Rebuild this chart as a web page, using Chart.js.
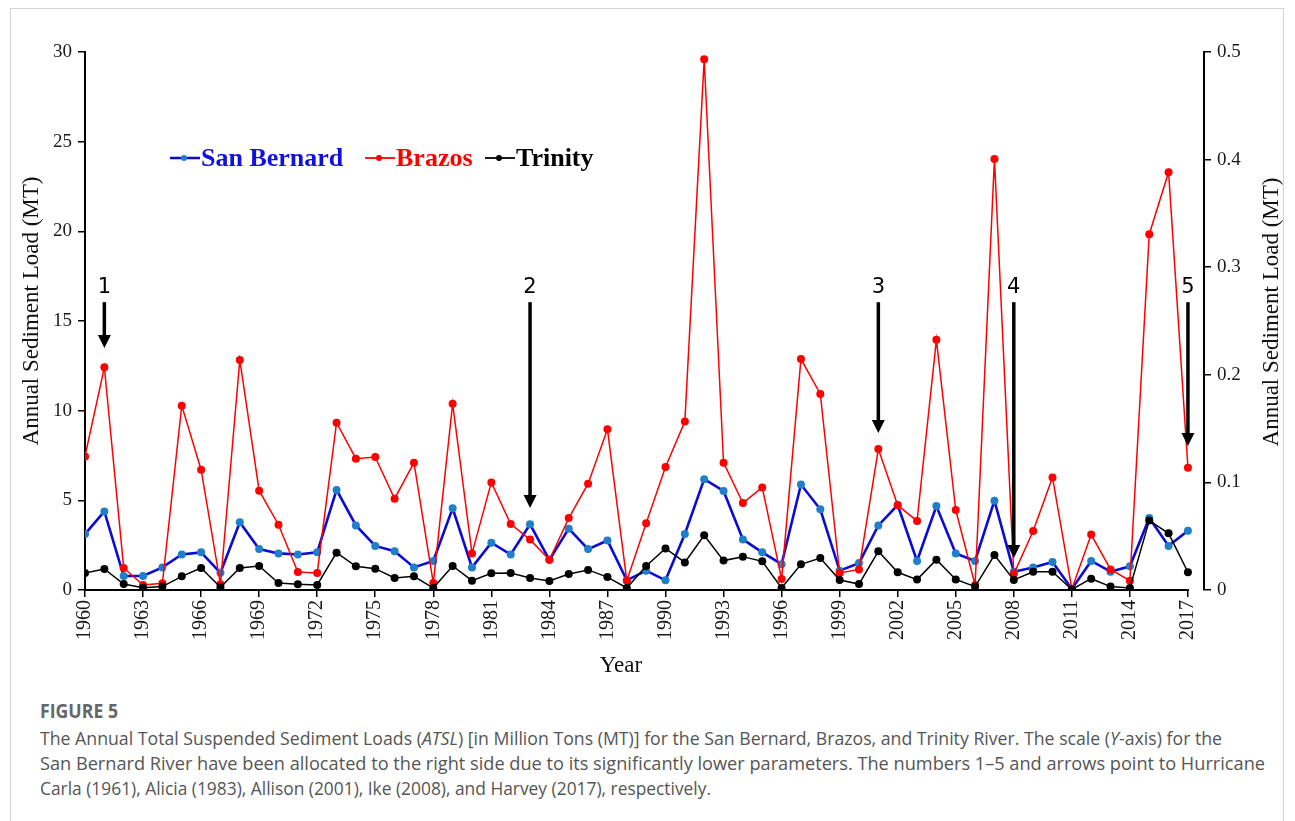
<!DOCTYPE html>
<html>
<head>
<meta charset="utf-8">
<script src="https://cdn.jsdelivr.net/npm/chart.js@4.4.1/dist/chart.umd.min.js"></script>
<style>
  html, body { margin: 0; padding: 0; background: #fff; }
  #fig { position: relative; width: 1295px; height: 821px; overflow: hidden; background: #fff; }
  #frame { position: absolute; left: 10px; top: 8px; width: 1274px; height: 900px; border: 1px solid #d4d4d4; box-sizing: border-box; }
  #chart { position: absolute; left: 0; top: 0; }
  #cap { position: absolute; left: 40px; top: 699px; font-family: "Open Sans", sans-serif; color: #555; white-space: nowrap; }
  #cap .head { font-size: 19px; font-weight: bold; color: #666; line-height: 24px; }
  #cap .body { font-size: 18.5px; line-height: 25px; margin-top: 2px; }
  #cap .line { display: inline-block; transform-origin: 0 50%; }
</style>
</head>
<body>
<div id="fig">
  <div id="frame"></div>
  <canvas id="chart" width="1295" height="690"></canvas>
  <div id="cap">
    <div class="head"><span class="line" data-w="78">FIGURE 5</span></div>
    <div class="body"><span class="line" data-w="1182">The Annual Total Suspended Sediment Loads (<i>ATSL</i>) [in Million Tons (MT)] for the San Bernard, Brazos, and Trinity River. The scale (<i>Y</i>-axis) for the</span><br><span class="line" data-w="1225">San Bernard River have been allocated to the right side due to its significantly lower parameters. The numbers 1–5 and arrows point to Hurricane</span><br><span class="line" data-w="671">Carla (1961), Alicia (1983), Allison (2001), Ike (2008), and Harvey (2017), respectively.</span></div>
  </div>
</div>
<script>
// Years of record
const years = [1960, 1961, 1962, 1963, 1964, 1965, 1966, 1967, 1968, 1969, 1970, 1971, 1972,
  1973, 1974, 1975, 1976, 1977, 1978, 1979, 1980, 1981, 1982, 1983, 1984,
  1985, 1986, 1987, 1988, 1989, 1990, 1991, 1992, 1993, 1994, 1995, 1996,
  1997, 1998, 1999, 2000, 2001, 2002, 2003, 2004, 2005, 2006, 2007, 2008,
  2009, 2010, 2011, 2012, 2013, 2014, 2015, 2016, 2017];

// Annual total suspended sediment load, million tons (left axis)
const brazos = [7.45, 12.42, 1.23, 0.28, 0.37, 10.28, 6.71, 0.32, 12.83, 5.54, 3.64, 1.0, 0.95,
  9.33, 7.32, 7.42, 5.09, 7.1, 0.39, 10.39, 2.04, 6.0, 3.68, 2.81, 1.69,
  4.01, 5.93, 8.96, 0.52, 3.72, 6.86, 9.39, 29.6, 7.1, 4.85, 5.72, 0.61,
  12.88, 10.93, 0.95, 1.15, 7.86, 4.72, 3.85, 13.95, 4.46, 0.28, 24.04, 0.89,
  3.29, 6.28, 0.06, 3.09, 1.15, 0.52, 19.84, 23.3, 6.82];

const trinity = [0.95, 1.17, 0.33, 0.13, 0.19, 0.76, 1.23, 0.15, 1.23, 1.34, 0.39, 0.32, 0.28,
  2.08, 1.32, 1.19, 0.67, 0.76, 0.11, 1.34, 0.52, 0.93, 0.95, 0.67, 0.5,
  0.89, 1.12, 0.72, 0.11, 1.34, 2.32, 1.54, 3.05, 1.64, 1.86, 1.6, 0.11,
  1.43, 1.78, 0.56, 0.33, 2.16, 0.99, 0.58, 1.69, 0.59, 0.19, 1.95, 0.56,
  1.02, 1.02, 0.03, 0.63, 0.19, 0.11, 3.87, 3.16, 0.99];

// San Bernard, million tons (right axis)
const sanBernard = [0.052, 0.073, 0.013, 0.013, 0.021, 0.033, 0.035, 0.016, 0.063, 0.038, 0.034, 0.033, 0.035,
  0.093, 0.060, 0.041, 0.036, 0.021, 0.027, 0.076, 0.021, 0.044, 0.033, 0.061, 0.028,
  0.057, 0.038, 0.046, 0.009, 0.018, 0.009, 0.052, 0.103, 0.092, 0.047, 0.035, 0.024,
  0.098, 0.075, 0.018, 0.025, 0.060, 0.079, 0.027, 0.078, 0.034, 0.027, 0.083, 0.017,
  0.021, 0.026, 0.001, 0.027, 0.017, 0.022, 0.067, 0.041, 0.055];

// Axis tick values
const yearTicks = [1960, 1963, 1966, 1969, 1972, 1975, 1978, 1981, 1984, 1987, 1990, 1993, 1996,
  1999, 2002, 2005, 2008, 2011, 2014, 2017];
const leftTicks = [0, 5, 10, 15, 20, 25, 30];
const rightTicks = [0, 0.1, 0.2, 0.3, 0.4, 0.5];

// Hurricane markers: number, landfall year, arrow tip level (MT, left axis)
const hurricaneLabels = ['1', '2', '3', '4', '5'];
const hurricaneYears = [1961, 1983, 2001, 2008, 2017];
const hurricaneTips = [13.5, 4.57, 8.76, 1.78, 8.03];
const arrowTopLevel = 16.05;

const serif = '"Liberation Serif", "Times New Roman", serif';

const pts = (vals) => years.map((yr, i) => ({ x: yr, y: vals[i] }));

const decorations = {
  id: 'decorations',
  afterDraw(chart) {
    const { ctx, chartArea, scales } = chart;
    const xs = scales.x, yl = scales.y;
    ctx.save();

    // x axis line, ending at the last year
    ctx.strokeStyle = '#000';
    ctx.lineWidth = 2;
    ctx.beginPath();
    ctx.moveTo(chartArea.left - 1, chartArea.bottom);
    ctx.lineTo(xs.getPixelForValue(2017) + 1, chartArea.bottom);
    ctx.stroke();

    // hurricane arrows
    ctx.fillStyle = '#000';
    hurricaneYears.forEach((yr, i) => {
      const x = xs.getPixelForValue(yr);
      const top = yl.getPixelForValue(arrowTopLevel);
      const tip = yl.getPixelForValue(hurricaneTips[i]);
      ctx.lineWidth = 3.5;
      ctx.beginPath();
      ctx.moveTo(x, top);
      ctx.lineTo(x, tip - 10);
      ctx.stroke();
      ctx.beginPath();
      ctx.moveTo(x - 6.5, tip - 13);
      ctx.lineTo(x + 6.5, tip - 13);
      ctx.lineTo(x, tip);
      ctx.closePath();
      ctx.fill();
      ctx.font = '21px "DejaVu Sans", sans-serif';
      ctx.textAlign = 'center';
      ctx.textBaseline = 'middle';
      ctx.fillText(hurricaneLabels[i], x, top - 15);
    });

    // axis titles
    ctx.font = '23px ' + serif;
    ctx.fillStyle = '#111';
    ctx.textAlign = 'center';
    ctx.textBaseline = 'middle';
    ctx.fillText('Year', 621, 666);
    [[32, 311], [1272, 312]].forEach(([x, y]) => {
      ctx.save();
      ctx.translate(x, y);
      ctx.rotate(-Math.PI / 2);
      ctx.fillText('Annual Sediment Load (MT)', 0, 0);
      ctx.restore();
    });

    // legend
    const items = [
      { text: 'San Bernard', line: '#0b0bd6', dot: '#1f7fc8', textColor: '#1010e0', x: 170, w: 2.5 },
      { text: 'Brazos', line: '#ff0000', dot: '#ff0000', textColor: '#ff0000', x: 365, w: 1.8 },
      { text: 'Trinity', line: '#000', dot: '#000', textColor: '#000', x: 485, w: 1.8 }
    ];
    const ly = 158;
    items.forEach(it => {
      ctx.strokeStyle = it.line;
      ctx.lineWidth = it.w;
      ctx.beginPath();
      ctx.moveTo(it.x, ly);
      ctx.lineTo(it.x + 30, ly);
      ctx.stroke();
      ctx.fillStyle = it.dot;
      ctx.beginPath();
      ctx.arc(it.x + 14, ly, 3, 0, Math.PI * 2);
      ctx.fill();
      ctx.fillStyle = it.textColor;
      ctx.font = 'bold 26px ' + serif;
      ctx.textAlign = 'left';
      ctx.fillText(it.text, it.x + 31, ly + 1);
    });
    ctx.restore();
  }
};

const tickFont = { family: serif, size: 19 };

new Chart(document.getElementById('chart'), {
  type: 'line',
  data: {
    datasets: [
      {
        label: 'Trinity', data: pts(trinity), yAxisID: 'y', order: 1,
        borderColor: '#000', borderWidth: 1.5, backgroundColor: '#000',
        pointRadius: 4, pointBackgroundColor: '#000', pointBorderWidth: 0, tension: 0
      },
      {
        label: 'Brazos', data: pts(brazos), yAxisID: 'y', order: 2,
        borderColor: '#ff0000', borderWidth: 1.5, backgroundColor: '#ff0000',
        pointRadius: 4, pointBackgroundColor: '#ff0000', pointBorderWidth: 0, tension: 0
      },
      {
        label: 'San Bernard', data: pts(sanBernard), yAxisID: 'y1', order: 3,
        borderColor: '#0b0bd6', borderWidth: 2.6, backgroundColor: '#1f7fc8',
        pointRadius: 4, pointBackgroundColor: '#1f7fc8', pointBorderWidth: 0, tension: 0
      }
    ]
  },
  options: {
    responsive: false,
    animation: false,
    layout: { padding: { top: 52, left: 0, right: 0, bottom: 0 } },
    plugins: { legend: { display: false }, tooltip: { enabled: false } },
    scales: {
      x: {
        type: 'linear', min: 1960, max: 2017.83,
        afterBuildTicks: (s) => { s.ticks = yearTicks.map(v => ({ value: v })); },
        afterFit: (s) => { s.height = 100; },
        ticks: { autoSkip: false, minRotation: 90, maxRotation: 90, padding: 3,
          color: '#1a1a1a', font: { family: serif, size: 20 }, callback: (v) => String(v) },
        grid: { drawOnChartArea: false, drawTicks: true, tickLength: 7, color: '#000', lineWidth: 1.5 },
        border: { display: false }
      },
      y: {
        position: 'left', min: 0, max: 30,
        afterBuildTicks: (s) => { s.ticks = leftTicks.map(v => ({ value: v })); },
        afterFit: (s) => { s.width = 85; },
        ticks: { padding: 6, color: '#1a1a1a', font: tickFont },
        grid: { drawOnChartArea: false, drawTicks: true, tickLength: 7, color: '#000', lineWidth: 1.5 },
        border: { display: true, color: '#000', width: 2 }
      },
      y1: {
        position: 'right', min: 0, max: 0.5,
        afterBuildTicks: (s) => { s.ticks = rightTicks.map(v => ({ value: v })); },
        afterFit: (s) => { s.width = 91; },
        ticks: { padding: 6, color: '#1a1a1a', font: tickFont,
          callback: (v) => (v === 0 ? '0' : v.toFixed(1)) },
        grid: { drawOnChartArea: false, drawTicks: true, tickLength: 7, color: '#000', lineWidth: 1.5 },
        border: { display: true, color: '#000', width: 2 }
      }
    }
  },
  plugins: [decorations]
});

// Narrow each caption line to its column width
document.querySelectorAll('#cap .line').forEach(el => {
  const w = el.getBoundingClientRect().width;
  const k = Number(el.dataset.w) / w;
  el.style.transform = 'scaleX(' + k.toFixed(4) + ')';
});
</script>
</body>
</html>
